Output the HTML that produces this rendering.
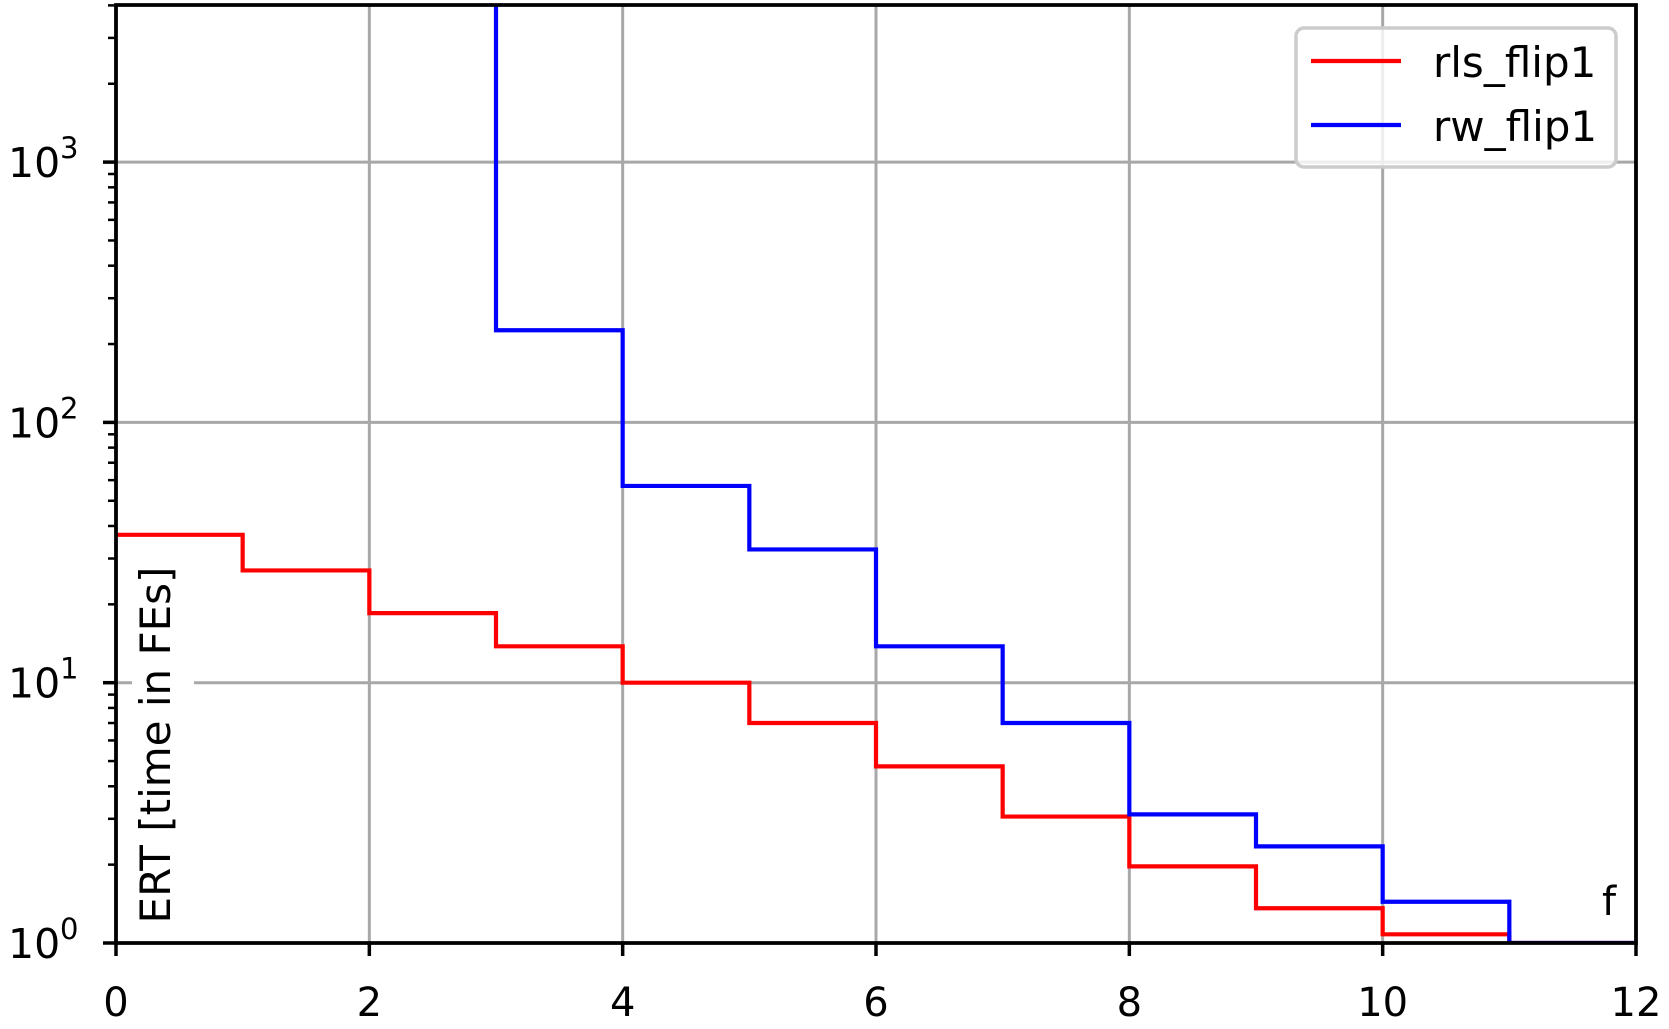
<!DOCTYPE html>
<html><head><meta charset="utf-8"><style>
body{margin:0;background:#fff}
svg{display:block;font-family:"DejaVu Sans","Liberation Sans",sans-serif}
</style></head><body>
<svg id="chart" width="1669" height="1029" viewBox="0 0 1669 1029">
<defs><clipPath id="clip"><rect x="116" y="5" width="1520" height="938"/></clipPath></defs>
<g id="grid"></g>
<g id="series" clip-path="url(#clip)"></g>
<rect x="132" y="560" width="62" height="380" fill="#fff"/>
<text transform="translate(170,745) rotate(-90)" text-anchor="middle" font-size="42">ERT [time in FEs]</text>
<text x="1609" y="915" text-anchor="middle" font-size="40">f</text>
<g id="axes"></g>
<g>
<rect x="1296" y="28" width="320" height="139" rx="8" fill="#fff" fill-opacity="0.8" stroke="#ccc" stroke-width="3.5"/>
<line x1="1311" x2="1401" y1="61" y2="61" stroke="#ff0000" stroke-width="4.2"/>
<text x="1433" y="77" font-size="42">rls_flip1</text>
<line x1="1311" x2="1401" y1="125" y2="125" stroke="#0000ff" stroke-width="4.2"/>
<text x="1433" y="141" font-size="42">rw_flip1</text>
</g>
</svg>
<script>
const xTicks=[0,2,4,6,8,10,12];
const yDecades=[0,1,2,3];
const stepX=[0,1,2,3,4,5,6,7,8,9,10,11,12];
const rlsValues=[37,27,18.5,13.8,10,7,4.77,3.06,1.97,1.36,1.08,1.0];
const rwValues=[20000,20000,5000,226,57,32.5,13.8,7,3.12,2.35,1.44,1.0];
const X0=116,X1=1636,Y0=943,DEC=260.3;
const xs=v=>X0+(v-0)*(X1-X0)/12;
const ys=v=>Y0-Math.log10(v)*DEC;
const NS='http://www.w3.org/2000/svg';
function mk(t,a,p){const e=document.createElementNS(NS,t);for(const k in a)e.setAttribute(k,a[k]);p.appendChild(e);return e;}
const grid=document.getElementById('grid'),axes=document.getElementById('axes'),series=document.getElementById('series');
xTicks.forEach(v=>{
 if(v>0&&v<12){const l=mk('line',{x1:xs(v),x2:xs(v),y1:5,y2:Y0,stroke:'#a8a8a8','stroke-width':3},grid);
 
 }
 const t=mk('line',{x1:xs(v),x2:xs(v),y1:Y0,y2:Y0+13,stroke:'#000','stroke-width':3.5},axes);
 
 
 const tx=mk('text',{x:xs(v),y:1016,'text-anchor':'middle','font-size':40},axes);
 tx.textContent=v;
 
 
});
yDecades.forEach(d=>{
 const y=ys(Math.pow(10,d));
 if(d>0){const l=mk('line',{x1:X0,x2:X1,y1:y,y2:y,stroke:'#a8a8a8','stroke-width':3},grid);
 
 }
 const t=mk('line',{x1:X0-13,x2:X0,y1:y,y2:y,stroke:'#000','stroke-width':3.5},axes);
 
 
 const tx=mk('text',{x:8,y:y+15,'font-size':41},axes);
 tx.textContent='10';
 
 
 const sp=mk('text',{x:60,y:y-4,'font-size':29},axes);
 sp.textContent=d;
 
 
 for(let m=2;m<=9;m++){const v=m*Math.pow(10,d);const yy=ys(v);if(yy<5)continue;
  const mt=mk('line',{x1:X0-8,x2:X0,y1:yy,y2:yy,stroke:'#000','stroke-width':2.5},axes);
  
  }
});
const sp=mk('path',{d:`M${X0},5V${Y0}H${X1}V5Z`,fill:'none',stroke:'#000','stroke-width':3.8},axes);


function stepPath(vals){let d='';vals.forEach((v,i)=>{const x0=xs(stepX[i]),x1=xs(stepX[i+1]),y=ys(v);d+=(i?`L${x0},${y}`:`M${x0},${y}`)+`L${x1},${y}`;});return d;}
const r=mk('path',{d:stepPath(rlsValues),fill:'none',stroke:'#ff0000','stroke-width':4.2},series);


const b=mk('path',{d:stepPath(rwValues),fill:'none',stroke:'#0000ff','stroke-width':4.2},series);


</script>
</body></html>
